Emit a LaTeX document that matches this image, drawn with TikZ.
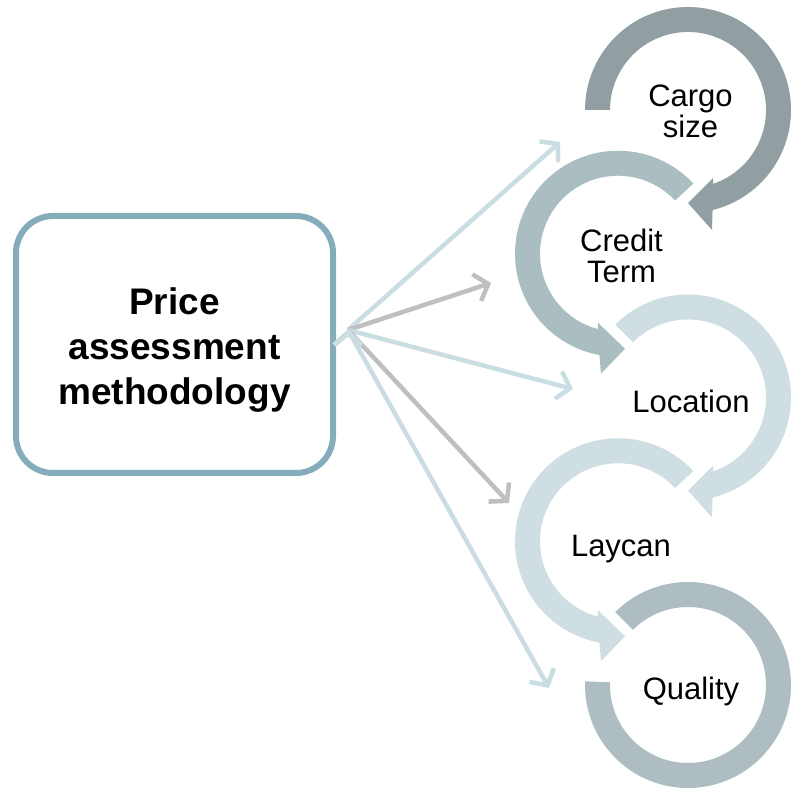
\documentclass[tikz,border=0pt]{standalone}
\usepackage{fontspec}
\setmainfont{Liberation Sans}
\usetikzlibrary{arrows.meta}

\definecolor{boxline}{HTML}{84ACBB}
\definecolor{ringa}{HTML}{919FA3}
\definecolor{ringb}{HTML}{AABEC2}
\definecolor{ringc}{HTML}{CFDEE2}
\definecolor{ringd}{HTML}{ADBDC1}
\definecolor{lightline}{HTML}{C9DDE3}
\definecolor{grayline}{HTML}{BFBFBF}

\begin{document}
\begin{tikzpicture}[x=1pt, y=1pt,
        tag/.style={font=\fontsize{31}{31}\selectfont, align=center, inner sep=0pt},
        lightarr/.style={draw=lightline, line width=4.5pt, -{Straight Barb[length=12pt, width=28pt]}},
        grayarr/.style={draw=grayline, line width=4.5pt, -{Straight Barb[length=12pt, width=28pt]}}]
        \useasboundingbox (0,0) rectangle (792,795);

        \node[draw=boxline, line width=6pt, rounded corners=37pt, minimum width=317pt, minimum height=257pt] (pam) at (174.5, 450.5) {};
        \node[font=\fontsize{37}{45}\selectfont\bfseries, align=center, inner sep=0pt] (title) at (174.5, 444.5) {Price\\assessment\\methodology};

        % cargo size
        \begin{scope}[shift={(688, 685)}]
            \fill[ringa] (180:103) arc[start angle=180, end angle=-76.2, radius=103] -- (24, -120) -- (0, -93) -- (25, -68) -- (-71.3:78) arc[start angle=-71.3, end angle=180, radius=78] -- cycle;
            \node[tag] (cs) at (2.5, -1.5) {Cargo\\size};
        \end{scope}

        % credit term
        \begin{scope}[shift={(618, 541.25)}]
            \fill[ringb] (43:103) arc[start angle=43, end angle=259.6, radius=103] -- (-17, -120) -- (7, -95) -- (-20, -69) -- (255.1:78) arc[start angle=255.1, end angle=43, radius=78] -- cycle;
            \node[tag] (ct) at (3.5, -2.5) {Credit\\Term};
        \end{scope}

        % location
        \begin{scope}[shift={(688, 397.5)}]
            \fill[ringc] (135:103) arc[start angle=135, end angle=-76.2, radius=103] -- (24, -120) -- (0, -93) -- (25, -68) -- (-71.3:78) arc[start angle=-71.3, end angle=135, radius=78] -- cycle;
            \node[tag] (lo) at (3, -3.5) {Location};
        \end{scope}

        % laycan
        \begin{scope}[shift={(618, 253.75)}]
            \fill[ringc] (43:103) arc[start angle=43, end angle=259.6, radius=103] -- (-17, -120) -- (7, -95) -- (-20, -69) -- (255.1:78) arc[start angle=255.1, end angle=43, radius=78] -- cycle;
            \node[tag] (la) at (3, -8) {Laycan};
        \end{scope}

        % quality
        \begin{scope}[shift={(688, 110)}]
            \fill[ringd] (135:103) arc[start angle=135, end angle=-182, radius=103] -- (-182:78) arc[start angle=-182, end angle=135, radius=78] -- cycle;
            \node[tag] (qu) at (3, -6) {Quality};
        \end{scope}

        \coordinate (hub) at (348, 465);
        \coordinate (a1) at (560, 653);
        \coordinate (a2) at (491, 512);
        \coordinate (a3) at (573, 406);
        \coordinate (a4) at (509, 292);
        \coordinate (a5) at (549, 107);

        \draw[lightarr] (hub) edge (a1);
        \draw[grayarr] (hub) edge (a2);
        \draw[lightarr] (hub) edge (a3);
        \draw[grayarr] (hub) edge (a4);
        \draw[lightarr] (hub) edge (a5);
\end{tikzpicture}
\end{document}
